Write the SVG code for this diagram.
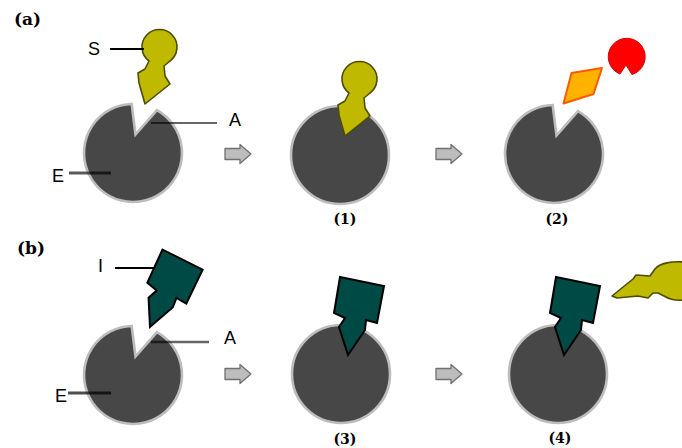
<svg xmlns="http://www.w3.org/2000/svg" width="682" height="448" viewBox="0 0 682 448">
  <style>
    .enz { fill: #474747; stroke: #bdbdbd; stroke-width: 2.6; filter: url(#soft); }
    .sub { fill: #bfb900; stroke: #4f4c00; stroke-width: 1.6; stroke-linejoin: round; }
    .inh { fill: #004a45; stroke: #000; stroke-width: 2; stroke-linejoin: miter; }
    .step { fill: #bdbdbd; stroke: #707070; stroke-width: 1.3; stroke-linejoin: round; }
    .lbl { font-family: "Liberation Sans", Arial, sans-serif; font-size: 18px; fill: #000; }
    .tag { font-family: "DejaVu Serif", "Liberation Serif", serif; font-weight: bold; fill: #000; }
    .lead { stroke: #000; fill: none; }
  </style>
  <defs>
    <filter id="soft" x="-10%" y="-10%" width="120%" height="120%">
      <feGaussianBlur stdDeviation="0.6"/>
    </filter>
    <!-- enzyme with open active-site notch, centred on origin -->
    <path id="enzyme" d="M -1.3,-49 L 2.5,-18.5 L 23.9,-42.8 A 49 49 0 1 1 -1.3,-49 Z"/>
    <!-- substrate: lightning stem with round head, tip at origin -->
    <path id="substrate" d="M 0,0 L -6,-21 L -7,-31 L 0,-35 L 4,-43 A 17.5 17.5 0 1 1 25,-43 L 19,-38 L 20,-28 L 25,-20 Z"/>
    <!-- inhibitor: block with lightning stem, tip at origin -->
    <path id="inhibitor" d="M -8,-78 L 36,-69 L 29,-32 L 18,-35 L 17,-25 L 0,0 L -9,-28 L -3,-37 L -14,-42 Z"/>
    <!-- reaction step arrow -->
    <path id="stepArrow" d="M 0,-5.5 H 15 V -9.5 L 26,0 L 15,9.5 V 5.5 H 0 Z"/>
  </defs>

  <!-- panel labels -->
  <text class="tag" x="14" y="25" font-size="17">(a)</text>
  <text class="tag" x="17" y="254" font-size="17">(b)</text>

  <!-- row (a): substrate binding and release -->
  <g id="enzyme-a">
    <use href="#enzyme" class="enz" transform="translate(133,153)"/>
  </g>
  <g id="substrate-a">
    <use href="#substrate" class="sub" transform="translate(145,104)"/>
  </g>
  <g id="complex-1">
    <circle class="enz" cx="340" cy="155" r="49"/>
    <use href="#substrate" class="sub" transform="translate(345,136)"/>
    <text class="tag" x="345" y="224" font-size="14" text-anchor="middle">(1)</text>
  </g>
  <g id="products-2">
    <use href="#enzyme" class="enz" transform="translate(554,154)"/>
    <path d="M 571.5,73 L 602,68 L 593.5,94 L 563.5,103.5 Z" fill="#ffb300" stroke="#ff5a00" stroke-width="2" stroke-linejoin="round"/>
    <path d="M 620,74 L 626,65 L 632,74.5 A 18.5 18.5 0 1 0 620,74 Z" fill="#ff0000" stroke="#dd0000" stroke-width="1"/>
    <text class="tag" x="557" y="224" font-size="14" text-anchor="middle">(2)</text>
  </g>

  <!-- row (b): inhibitor occupies the active site -->
  <g id="enzyme-b">
    <use href="#enzyme" class="enz" transform="translate(133,375)"/>
  </g>
  <g id="inhibitor-b">
    <use href="#inhibitor" class="inh" transform="translate(150,327) rotate(15)"/>
  </g>
  <g id="complex-3">
    <circle class="enz" cx="341" cy="374" r="49"/>
    <use href="#inhibitor" class="inh" transform="translate(348,355)"/>
    <text class="tag" x="345" y="444" font-size="14" text-anchor="middle">(3)</text>
  </g>
  <g id="complex-4">
    <circle class="enz" cx="558" cy="374" r="49"/>
    <use href="#inhibitor" class="inh" transform="translate(564,355)"/>
    <path class="sub" d="M 612,296 L 633,279 L 636,275 L 650,276 L 655,269 C 660,263 672,261 684,262 L 684,300 C 676,301 669,299 664,296 L 658,293 L 653,293 L 648,298 L 638,296 L 617,298 Z"/>
    <text class="tag" x="560" y="443" font-size="14" text-anchor="middle">(4)</text>
  </g>

  <!-- connectors: step arrows and label leader lines -->
  <g id="connectors">
    <use href="#stepArrow" class="step" transform="translate(225,154)"/>
    <use href="#stepArrow" class="step" transform="translate(436,154)"/>
    <use href="#stepArrow" class="step" transform="translate(225,374)"/>
    <use href="#stepArrow" class="step" transform="translate(436,374)"/>

    <line class="lead" x1="110" y1="49" x2="144" y2="49" stroke-width="2"/>
    <line class="lead" x1="151" y1="123" x2="217" y2="123" stroke-width="1.5" stroke-opacity="0.8"/>
    <line class="lead" x1="69" y1="173" x2="111" y2="173" stroke-width="3" stroke-opacity="0.65"/>

    <line class="lead" x1="115" y1="268" x2="155" y2="268" stroke-width="2"/>
    <line class="lead" x1="151" y1="342" x2="209" y2="342" stroke-width="2.5" stroke-opacity="0.6"/>
    <line class="lead" x1="68" y1="393" x2="111" y2="393" stroke-width="3" stroke-opacity="0.7"/>
  </g>

  <!-- letter labels -->
  <text class="lbl" x="88" y="55">S</text>
  <text class="lbl" x="229" y="126">A</text>
  <text class="lbl" x="52" y="182">E</text>
  <text class="lbl" x="98" y="272">I</text>
  <text class="lbl" x="224" y="344">A</text>
  <text class="lbl" x="55" y="402">E</text>
</svg>
